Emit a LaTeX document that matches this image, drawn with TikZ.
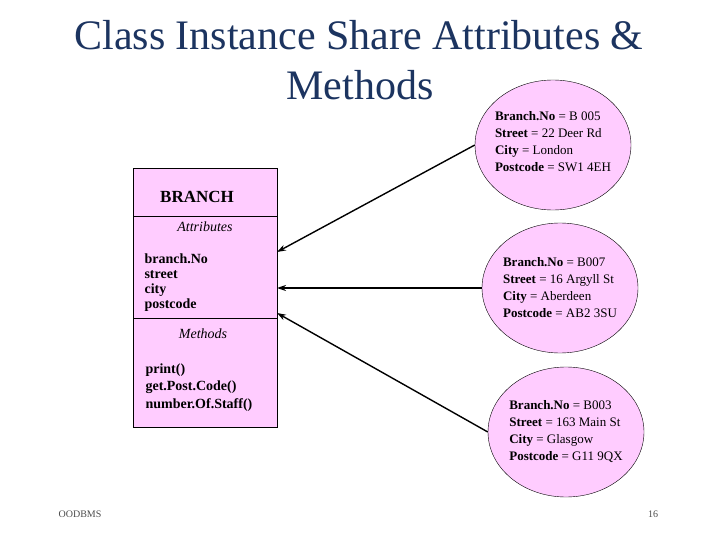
\documentclass[tikz,border=0pt]{standalone}
\usepackage{fontspec}
\setmainfont{Liberation Serif}
\usetikzlibrary{arrows.meta,shapes.geometric}
\definecolor{pinkf}{RGB}{255,204,255}
\definecolor{navy}{RGB}{28,52,96}
\begin{document}
\begin{tikzpicture}[x=1pt,y=-1pt,
  inst/.style={draw,ellipse,fill=pinkf,minimum width=156pt,minimum height=130pt,inner sep=0pt},
  itxt/.style={align=left,font=\fontsize{13}{17}\selectfont},
  conn/.style={-{Stealth[length=9pt,width=6pt]},line width=1.4pt},
  btxt/.style={font=\fontsize{14}{15}\selectfont\bfseries,align=left,anchor=north west}]
\useasboundingbox (0,0) rectangle (720,540);
\node[font=\fontsize{42}{42}\selectfont,text=navy] (t1) at (359,35) {Class Instance Share Attributes \&};
\node[font=\fontsize{42}{42}\selectfont,text=navy] (t2) at (360,85) {Methods};
% class box
\filldraw[fill=pinkf] (133,168) rectangle (277,427);
\draw (133,216) -- (277,216);
\draw (133,318) -- (277,318);
\coordinate (bA) at (277,252);
\coordinate (bB) at (277,288);
\coordinate (bC) at (277,313);
\node[font=\fontsize{17}{17}\selectfont\bfseries] (cls) at (197,197) {BRANCH};
\node[font=\fontsize{14}{14}\selectfont\itshape] (att) at (205,227) {Attributes};
\node[btxt,font=\fontsize{14}{15}\selectfont\bfseries] (al) at (141,250) {branch.No\\street\\city\\postcode};
\node[font=\fontsize{14}{14}\selectfont\itshape] (met) at (203,334) {Methods};
\node[btxt,font=\fontsize{14}{17.5}\selectfont\bfseries] (ml) at (142,360) {print()\\get.Post.Code()\\number.Of.Staff()};
% instances
\node[inst] (e1) at (553,145) {};
\node[itxt] at (553,142) {\textbf{Branch.No} = B 005\\\textbf{Street} = 22 Deer Rd\\\textbf{City} = London\\\textbf{Postcode} = SW1 4EH};
\node[inst] (e2) at (560,288) {};
\node[itxt] at (560,288) {\textbf{Branch.No} = B007\\\textbf{Street} = 16 Argyll St\\\textbf{City} = Aberdeen\\\textbf{Postcode} = AB2 3SU};
\node[inst] (e3) at (566,432) {};
\node[itxt] at (566,432) {\textbf{Branch.No} = B003\\\textbf{Street} = 163 Main St\\\textbf{City} = Glasgow\\\textbf{Postcode} = G11 9QX};
\draw[conn] (e1.west) -- (bA);
\draw[conn] (e2.west) -- (bB);
\draw[conn] (e3.west) -- (bC);
\node[font=\fontsize{10}{10}\selectfont,text=black!70] (f1) at (80,514) {OODBMS};
\node[font=\fontsize{10}{10}\selectfont,text=black!70] (f2) at (653,514) {16};
\end{tikzpicture}
\end{document}
